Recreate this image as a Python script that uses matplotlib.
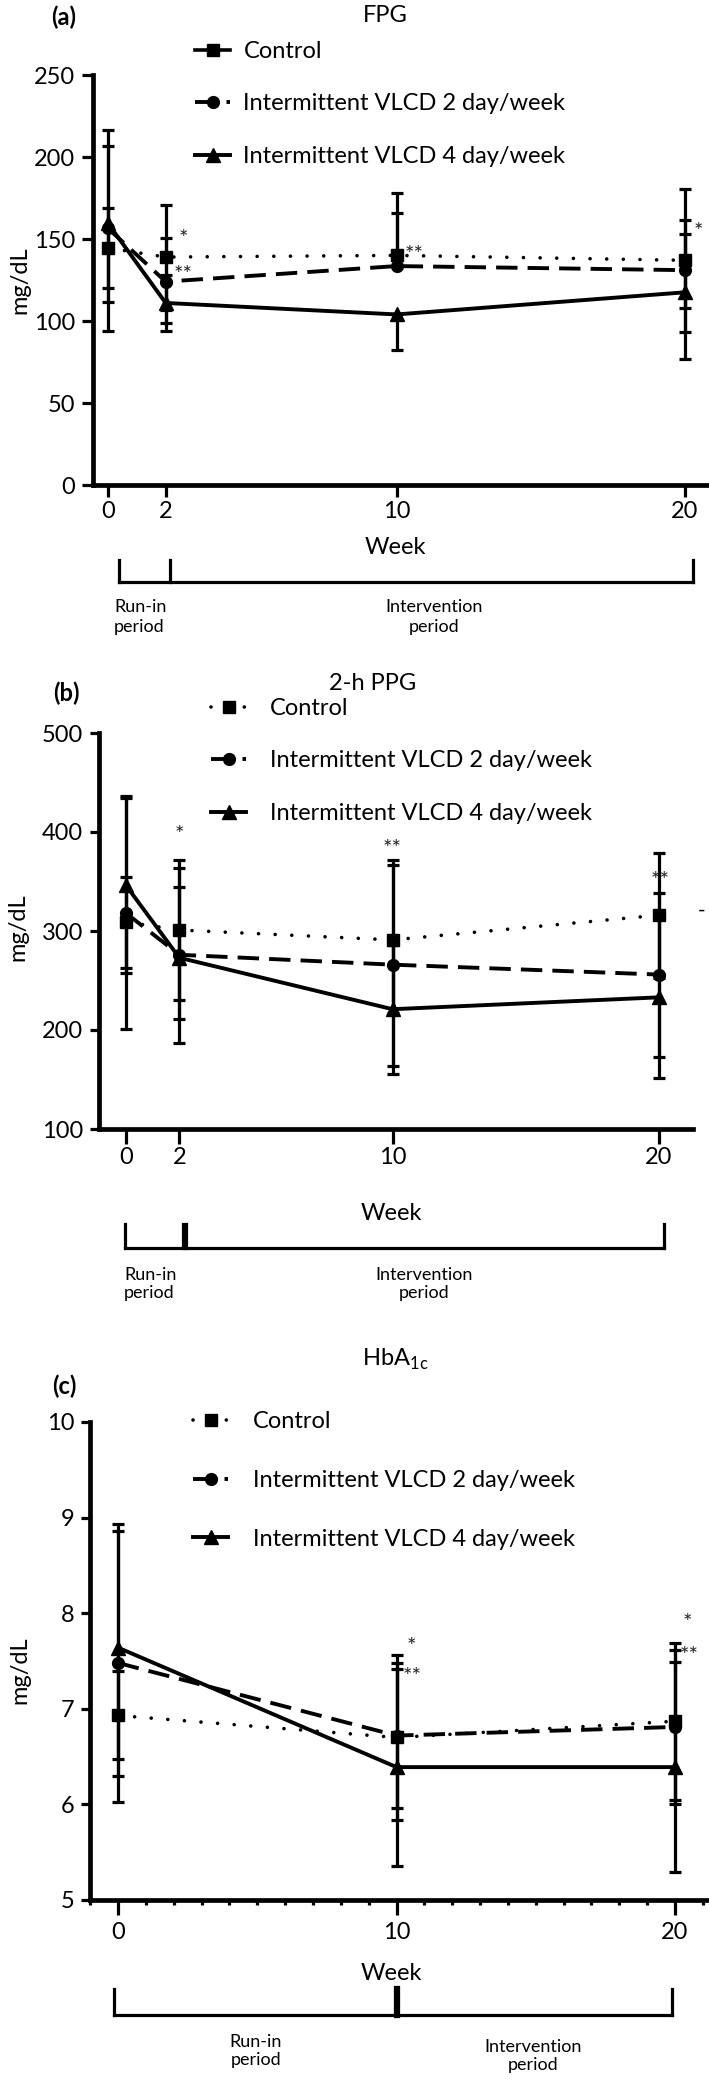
import matplotlib
matplotlib.use("Agg")
import matplotlib.pyplot as plt
from matplotlib.lines import Line2D
from matplotlib import transforms
from matplotlib.ticker import MultipleLocator
import numpy as np

plt.rcParams['font.family'] = ['Lato', 'DejaVu Sans']
plt.rcParams['mathtext.fontset'] = 'custom'

# ---------------- data ----------------
series_names = ['Control', 'Intermittent VLCD 2 day/week', 'Intermittent VLCD 4 day/week']

# (a) FPG
fpg_weeks = [0, 2, 10, 20]
fpg_control = [144.5, 139, 140, 137]
fpg_control_hi = [169, 171, 166, 180.5]
fpg_control_lo = [120, 107, 140, 93]
fpg_vlcd2 = [156.5, 124, 133.5, 131]
fpg_vlcd2_hi = [216.5, 150.5, 178, 153]
fpg_vlcd2_lo = [94, 99, 133.5, 108]
fpg_vlcd4 = [159.5, 111, 104, 117.5]
fpg_vlcd4_hi = [206.5, 128, 104, 161.5]
fpg_vlcd4_lo = [111.5, 94, 82.5, 77]
fpg_star_text = ['*', '**', '**', '*']
fpg_star_x = [2.6, 2.6, 10.6, 20.45]
fpg_star_y = [150, 128, 140, 154]

# (b) 2-h PPG
ppg_weeks = [0, 2, 10, 20]
ppg_control = [309, 301, 291, 316]
ppg_control_hi = [355, 372, 372, 379]
ppg_control_lo = [263, 230, 217, 253]
ppg_vlcd2 = [318, 276, 266, 256]
ppg_vlcd2_hi = [436, 364, 367, 338]
ppg_vlcd2_lo = [201, 187, 164, 173]
ppg_vlcd4 = [346, 273, 221, 233]
ppg_vlcd4_hi = [434, 344, 286, 314]
ppg_vlcd4_lo = [258, 211, 156, 152]
ppg_star_text = ['*', '**', '**']
ppg_star_x = [2.0, 10.0, 20.05]
ppg_star_y = [397, 383, 350]

# (c) HbA1c
hba_weeks = [0, 10, 20]
hba_control = [6.93, 6.70, 6.87]
hba_control_hi = [7.40, 7.56, 7.69]
hba_control_lo = [6.47, 5.84, 6.05]
hba_vlcd2 = [7.48, 6.72, 6.81]
hba_vlcd2_hi = [8.86, 7.48, 7.62]
hba_vlcd2_lo = [6.02, 5.96, 6.00]
hba_vlcd4 = [7.64, 6.39, 6.39]
hba_vlcd4_hi = [8.93, 7.42, 7.49]
hba_vlcd4_lo = [6.30, 5.36, 5.29]
hba_star_text = ['*', '**', '*', '**']
hba_star_x = [10.55, 10.55, 20.45, 20.5]
hba_star_y = [7.65, 7.33, 7.9, 7.55]

# ---------------- layout ----------------
W, H = 709, 2080
fig = plt.figure(figsize=(W / 100, H / 100), dpi=100)

def fy(y):
    return 1 - y / H

def fx(x):
    return x / W

def axes_px(left, top, right, bottom):
    return fig.add_axes([left / W, 1 - bottom / H, (right - left) / W, (bottom - top) / H])

TICKFS = 17
LEGFS = 17
STYLES = [
    dict(marker='s', ms=8.5, linestyle=(0, (0.01, 4.6)), dash_capstyle='round', lw=2.6),
    dict(marker='o', ms=8.5, linestyle=(0, (5.5, 2.6)), lw=2.8),
    dict(marker='^', ms=9.5, linestyle='-', lw=2.8),
]

def draw_series(ax, x, means, los, his):
    for (m, lo, hi), st in zip(zip(means, los, his), STYLES):
        m = np.array(m); lo = np.array(lo); hi = np.array(hi)
        yerr = np.vstack([m - lo, hi - m])
        ax.errorbar(x, m, yerr=yerr, color='black', elinewidth=2.3, capsize=4,
                    capthick=2.3, clip_on=False, zorder=3, **st)

def style_axes(ax, xlim, ylim, yticks, xticks, ytl, xtl, xpad, minor=False):
    ax.set_xlim(*xlim)
    ax.set_ylim(*ylim)
    for s in ['top', 'right']:
        ax.spines[s].set_visible(False)
    for s in ['left', 'bottom']:
        ax.spines[s].set_linewidth(3.4)
    ax.set_yticks(yticks)
    ax.set_xticks(xticks)
    ax.tick_params(axis='y', length=ytl, width=2.3, pad=5, labelsize=TICKFS)
    ax.tick_params(axis='x', length=xtl, width=2.3, pad=xpad, labelsize=TICKFS)
    if minor:
        ax.xaxis.set_minor_locator(MultipleLocator(1))
        ax.tick_params(axis='x', which='minor', length=3.5, width=2.3)
    ax.patch.set_alpha(0)

def legend(ax, x_px, y_px, spacing, tpad, control_solid=False):
    hs = []
    for i, (st, name) in enumerate(zip(STYLES, series_names)):
        st2 = dict(st)
        if i == 0 and control_solid:
            st2['linestyle'] = '-'
        hs.append(Line2D([], [], color='black', **st2))
    ax.legend(hs, series_names, loc='upper left', bbox_to_anchor=(fx(x_px), fy(y_px)),
              bbox_transform=fig.transFigure, frameon=False, fontsize=LEGFS,
              borderpad=0, borderaxespad=0, handlelength=1.5, handletextpad=tpad,
              labelspacing=spacing)

def bracket(ax, xs, top, bottom, lw=2.3, divlw=None):
    tr = transforms.blended_transform_factory(ax.transData, fig.transFigure)
    ax.add_line(Line2D([xs[0], xs[-1]], [fy(bottom), fy(bottom)], transform=tr, color='black', lw=lw, clip_on=False))
    for i, xv in enumerate(xs):
        w = lw
        if divlw is not None and 0 < i < len(xs) - 1:
            w = divlw
        ax.add_line(Line2D([xv, xv], [fy(top), fy(bottom)], transform=tr, color='black', lw=w, clip_on=False))

def stars(ax, xs, ys, txt):
    for x, y, t in zip(xs, ys, txt):
        ax.text(x, y, t, fontsize=16, ha='center', va='center', color='#222222')

# ---------- panel (a) ----------
ppw = (685 - 108) / 20
axa = axes_px(93, 75, 709, 485)
style_axes(axa, (-(108 - 93) / ppw, (709 - 108) / ppw), (0, 250), [0, 50, 100, 150, 200, 250],
           fpg_weeks, 8, 8.5, 3)
draw_series(axa, fpg_weeks, [fpg_control, fpg_vlcd2, fpg_vlcd4],
            [fpg_control_lo, fpg_vlcd2_lo, fpg_vlcd4_lo],
            [fpg_control_hi, fpg_vlcd2_hi, fpg_vlcd4_hi])
stars(axa, fpg_star_x, fpg_star_y, fpg_star_text)
legend(axa, 195, 41, 1.33, 0.55, control_solid=True)
fig.text(fx(64), fy(17), '(a)', fontsize=17, fontweight='bold', ha='center', va='center')
fig.text(fx(385), fy(16), 'FPG', fontsize=17, ha='center', va='center')
fig.text(fx(20), fy(280), 'mg/dL', fontsize=17, rotation=90, ha='center', va='center')
fig.text(fx(395), fy(547), 'Week', fontsize=17, ha='center', va='center')
bracket(axa, [0.38, 2.15, 20.28], 560, 582)
fig.text(fx(114), fy(617), 'Run-in\nperiod', fontsize=13, ha='left', va='center', linespacing=1.3)
fig.text(fx(434), fy(617), 'Intervention\nperiod', fontsize=13, ha='center', va='center', linespacing=1.3)

# ---------- panel (b) ----------
ppw = (659 - 126) / 20
axb = axes_px(99, 733, 693, 1129)
style_axes(axb, (-(126 - 99) / ppw, (693 - 126) / ppw), (100, 500), [100, 200, 300, 400, 500],
           ppg_weeks, 6.5, 11, 2)
draw_series(axb, ppg_weeks, [ppg_control, ppg_vlcd2, ppg_vlcd4],
            [ppg_control_lo, ppg_vlcd2_lo, ppg_vlcd4_lo],
            [ppg_control_hi, ppg_vlcd2_hi, ppg_vlcd4_hi])
stars(axb, ppg_star_x, ppg_star_y, ppg_star_text)
legend(axb, 211, 698, 1.33, 1.0)
fig.text(fx(66), fy(693), '(b)', fontsize=17, fontweight='bold', ha='center', va='center')
fig.text(fx(373), fy(683), '2-h PPG', fontsize=17, ha='center', va='center')
fig.text(fx(18), fy(927), 'mg/dL', fontsize=17, rotation=90, ha='center', va='center')
fig.text(fx(702), fy(911), '-', fontsize=15, ha='center', va='center')
fig.text(fx(391), fy(1213), 'Week', fontsize=17, ha='center', va='center')
bracket(axb, [-0.04, 2.14, 2.25, 20.19], 1224, 1248)
fig.text(fx(124), fy(1284), 'Run-in\nperiod', fontsize=13, ha='left', va='center', linespacing=1.2)
fig.text(fx(424), fy(1284), 'Intervention\nperiod', fontsize=13, ha='center', va='center', linespacing=1.2)

# ---------- panel (c) ----------
ppw = (675 - 118) / 20
axc = axes_px(90, 1422, 709, 1900)
style_axes(axc, (-(118 - 90) / ppw, (709 - 118) / ppw), (5, 10), [5, 6, 7, 8, 9, 10],
           hba_weeks, 6.5, 11, 5, minor=True)
draw_series(axc, hba_weeks, [hba_control, hba_vlcd2, hba_vlcd4],
            [hba_control_lo, hba_vlcd2_lo, hba_vlcd4_lo],
            [hba_control_hi, hba_vlcd2_hi, hba_vlcd4_hi])
stars(axc, hba_star_x, hba_star_y, hba_star_text)
legend(axc, 193, 1411, 1.6, 1.05)
fig.text(fx(64), fy(1386), '(c)', fontsize=17, fontweight='bold', ha='center', va='center')
fig.text(fx(395), fy(1359), r'HbA$_{\mathregular{1c}}$', fontsize=17, ha='center', va='center')
fig.text(fx(20), fy(1670), 'mg/dL', fontsize=17, rotation=90, ha='center', va='center')
fig.text(fx(391), fy(1973), 'Week', fontsize=17, ha='center', va='center')
bracket(axc, [-0.14, 10.0, 19.89], 1989, 2015, divlw=4.5)
fig.text(fx(256), fy(2051), 'Run-in\nperiod', fontsize=13, ha='center', va='center', linespacing=1.2)
fig.text(fx(533), fy(2056), 'Intervention\nperiod', fontsize=13, ha='center', va='center', linespacing=1.2)

fig.savefig('out.png', dpi=100)
